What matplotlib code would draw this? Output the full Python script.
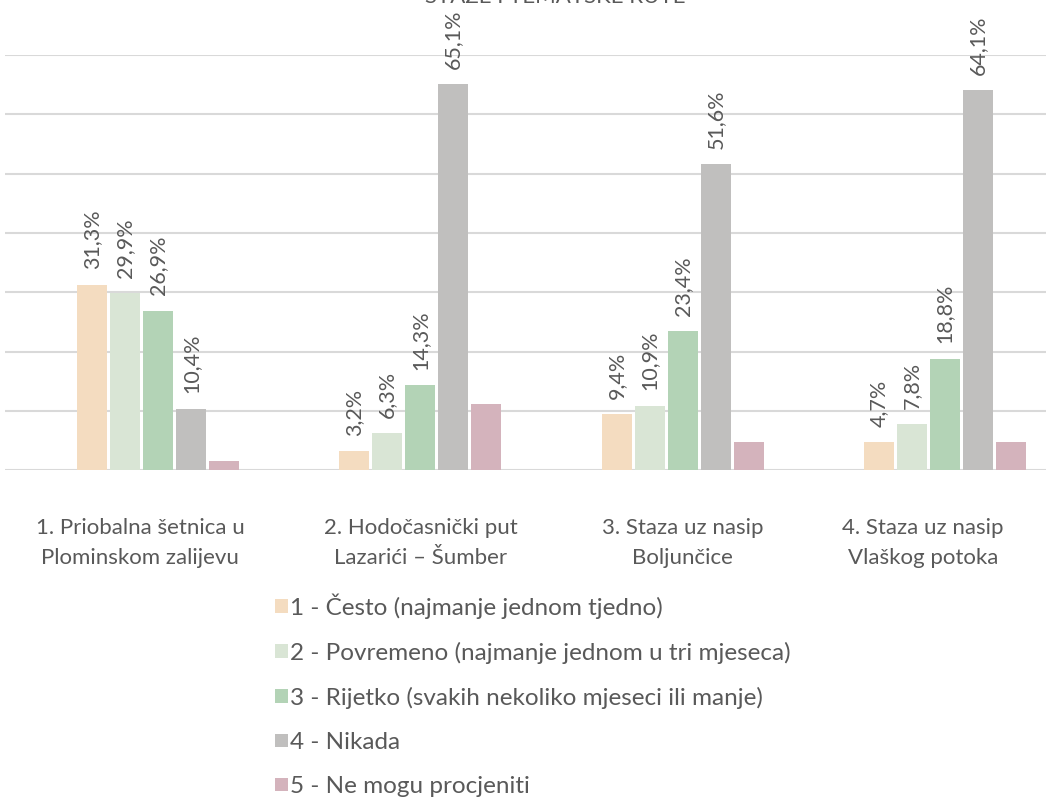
import matplotlib.pyplot as plt
import numpy as np

plt.rcParams['font.family'] = ['Lato', 'DejaVu Sans']

categories = ["1. Priobalna šetnica u\nPlominskom zalijevu",
              "2. Hodočasnički put\nLazarići – Šumber",
              "3. Staza uz nasip\nBoljunčice",
              "4. Staza uz nasip\nVlaškog potoka"]
series_names = ["1 - Često (najmanje jednom tjedno)",
                "2 - Povremeno (najmanje jednom u tri mjeseca)",
                "3 - Rijetko (svakih nekoliko mjeseci ili manje)",
                "4 - Nikada",
                "5 - Ne mogu procjeniti"]
often = [31.3, 3.2, 9.4, 4.7]
sometimes = [29.9, 6.3, 10.9, 7.8]
rarely = [26.9, 14.3, 23.4, 18.8]
never = [10.4, 65.1, 51.6, 64.1]
unknown = [1.5, 11.1, 4.7, 4.7]
series = [often, sometimes, rarely, never, unknown]
show_labels = [True, True, True, True, False]

colors = ['#F4DCC0', '#D9E5D5', '#B3D3B6', '#C0BFBE', '#D4B3BC']
text_color = '#595959'

fig = plt.figure(figsize=(10.46, 7.97), dpi=100)
ax = fig.add_axes([0.0048, 0.41, 0.995, 0.521])

x = np.arange(len(categories))
step = 0.126
width = 0.1145
for i, (vals, col) in enumerate(zip(series, colors)):
    xs = x + (i - 2) * step
    bars = ax.bar(xs, vals, width=width, color=col, label=series_names[i], zorder=3)
    if show_labels[i]:
        for b, v in zip(bars, vals):
            ax.annotate(f"{v:.1f}%".replace('.', ','), (b.get_x() + b.get_width() / 2, v),
                        xytext=(0, 11), textcoords='offset points', rotation=90,
                        ha='center', va='bottom', fontsize=15.5, color=text_color)

ax.set_xlim(-0.584, 3.385)
ax.set_ylim(0, 70)
ax.set_yticks(np.arange(0, 71, 10))
ax.yaxis.grid(True, color='#D9D9D9', linewidth=1.5, zorder=0)
ax.tick_params(axis='y', left=False, labelleft=False)
ax.tick_params(axis='x', bottom=False, pad=31)
# edge labels sit a bit inward, as in the original
ax.set_xticks(x + np.array([-0.069, 0, 0, -0.084]))
ax.set_xticklabels(categories, fontsize=16, color=text_color, linespacing=1.6)
for s in ax.spines.values():
    s.set_visible(False)

fig.text(0.531, 1.004, "STAZE I TEMATSKE RUTE", ha='center', va='center',
         fontsize=16, color=text_color)

handles, labels = ax.get_legend_handles_labels()
fig.legend(handles, labels, loc='upper left', bbox_to_anchor=(0.254, 0.268),
           frameon=False, fontsize=17.5, labelcolor=text_color,
           handlelength=0.5, handleheight=0.5, handletextpad=0.12,
           labelspacing=0.95, borderaxespad=0)

fig.savefig('out.png', dpi=100)
